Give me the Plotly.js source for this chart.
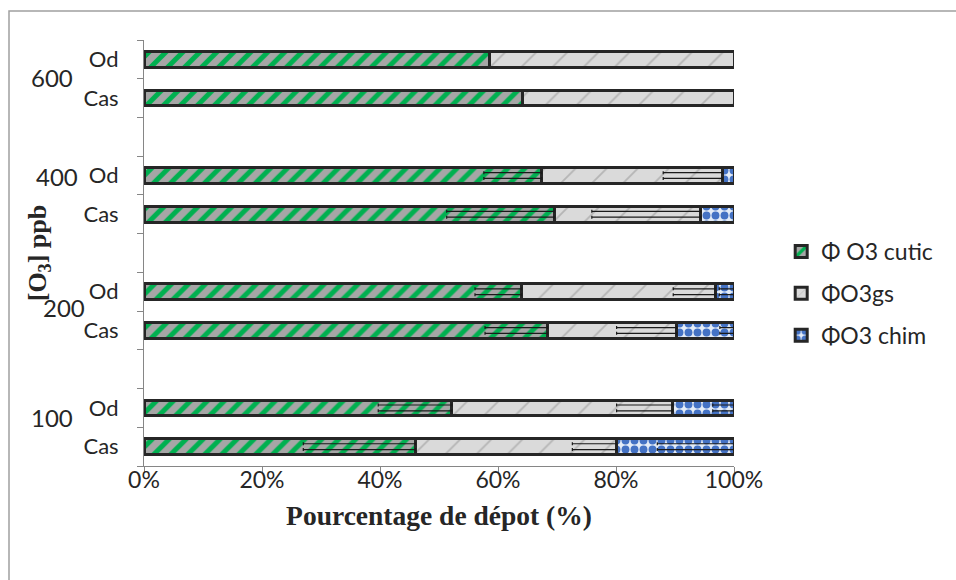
<!DOCTYPE html>
<html>
<head>
<meta charset="utf-8">
<script src="https://cdn.plot.ly/plotly-3.0.1.min.js"></script>
<style>html,body{margin:0;padding:0;background:#fff;}#chart{width:956px;height:580px;}</style>
</head>
<body>
<div id="chart"></div>
<script>
// ---- data (bars ordered bottom to top) ----
const groups = ['100', '200', '400', '600'];
const rows = ['Cas', 'Od'];
const cutic    = [46.0, 52.2, 68.4, 64.0, 69.5, 67.4, 64.2, 58.6];
const gs       = [34.1, 37.4, 21.9, 32.8, 24.9, 30.7, 35.8, 41.4];
const chim     = [19.9, 10.4,  9.7,  3.2,  5.6,  1.9,  0.0,  0.0];
const cuticErr = [19.0, 12.5, 10.6,  7.9, 18.2,  9.8,  0,    0];
const gsErr    = [ 7.5,  9.5, 10.2,  7.1, 18.5, 10.1,  0,    0];
const chimErr  = [13.0,  3.6,  2.4,  2.5,  0,    0,    0,    0];
const seriesNames = ['\u03A6 O3 cutic', '\u03A6O3gs', '\u03A6O3 chim'];
const xTicks = [0, 20, 40, 60, 80, 100];

// ---- layout helpers ----
const slot = i => Math.floor(i / rows.length) * (rows.length + 1) + (i % rows.length);
const yPos = cutic.map((_, i) => slot(i));
const yLabels = cutic.map((_, i) => rows[i % rows.length]);
const nSlots = groups.length * (rows.length + 1) - 1;

const FONT = 'Lato, "Open Sans", sans-serif';
const SERIF = '"Liberation Serif", "Times New Roman", serif';
const outline = {color: '#262626', width: 3};

const styles = [
  {color: '#a6a6a6', pattern: {shape: '/', fgcolor: '#00b050', bgcolor: '#a6a6a6', size: 12, solidity: 0.42}},
  {color: '#d9d9d9', pattern: {shape: '/', fgcolor: '#b5b5b5', bgcolor: '#dadada', size: 22, solidity: 0.08}},
  {color: '#dbe5f1', pattern: {shape: '.', fgcolor: '#4472c4', bgcolor: '#e4ecf7', size: 9, solidity: 0.6}}
];
const values = [cutic, gs, chim];
const errs = [cuticErr, gsErr, chimErr];

const traces = [];
values.forEach((v, k) => {
  traces.push({
    type: 'bar', orientation: 'h', name: seriesNames[k],
    x: v, y: yPos, legendgroup: 'g' + k,
    marker: {color: styles[k].color, pattern: styles[k].pattern, line: outline},
    hoverinfo: 'x+name'
  });
});
// error bars drawn as double lines at the end of each stacked segment
values.forEach((v, k) => {
  const ends = v.map((_, i) => values.slice(0, k + 1).reduce((s, arr) => s + arr[i], 0));
  const xs = ends.map((e, i) => errs[k][i] > 0 ? e : null);
  [-0.075, 0.075].forEach(off => {
    traces.push({
      type: 'scatter', mode: 'markers', showlegend: false, hoverinfo: 'skip',
      x: xs, y: yPos.map(p => p + off),
      marker: {size: 1, color: 'rgba(0,0,0,0)'},
      error_x: {type: 'data', symmetric: false, array: xs.map(() => 0), arrayminus: errs[k],
                color: '#1a1a1a', thickness: 1.2, width: 1.5}
    });
  });
});

const annotations = [
  {text: groups[0], y: 0.74, x: -0.156},
  {text: groups[1], y: 3.6, x: -0.136},
  {text: groups[2], y: 6.97, x: -0.147},
  {text: groups[3], y: 9.53, x: -0.156}
].map(a => ({xref: 'paper', yref: 'y', x: a.x, y: a.y, text: a.text, showarrow: false,
  xanchor: 'center', yanchor: 'middle', font: {family: FONT, size: 24, color: '#262626'}}));

const layout = {
  width: 956, height: 580,
  margin: {l: 144, r: 222, t: 40, b: 114},
  paper_bgcolor: '#ffffff', plot_bgcolor: '#ffffff',
  barmode: 'stack', bargap: 0.6,
  font: {family: FONT, size: 22, color: '#262626'},
  showlegend: true,
  legend: {x: 1.08, y: 0.405, xanchor: 'left', yanchor: 'middle', traceorder: 'grouped',
           tracegroupgap: 9, font: {family: FONT, size: 23, color: '#262626'}, bgcolor: 'rgba(0,0,0,0)'},
  xaxis: {
    range: [0, 100], tickvals: xTicks, ticktext: xTicks.map(t => t + '%'),
    showgrid: false, zeroline: false, showline: true, linecolor: '#868686', linewidth: 1,
    ticks: 'outside', ticklen: 6, tickcolor: '#868686', ticklabelstandoff: -13,
    tickfont: {family: FONT, size: 23, color: '#262626'},
    title: {text: '<b>Pourcentage de dépot (%)</b>', font: {family: SERIF, size: 27.5, color: '#262626'}, standoff: 14}
  },
  yaxis: {
    range: [-0.5, nSlots - 0.5], tickmode: 'array', tickvals: yPos, ticktext: yLabels,
    showgrid: false, zeroline: false, showline: true, linecolor: '#868686', linewidth: 1,
    ticks: '', ticklabelstandoff: 20,
    minor: {tickmode: 'linear', tick0: -0.5, dtick: 1, ticks: 'outside', ticklen: 6, tickcolor: '#868686', showgrid: false},
    tickfont: {family: FONT, size: 22, color: '#262626'},
    title: {text: '<b>[O<sub>3</sub>] ppb</b>', font: {family: SERIF, size: 26, color: '#262626'}, standoff: 29}
  },
  annotations: annotations,
  shapes: [{type: 'rect', xref: 'paper', yref: 'paper',
            x0: (9 - 144) / 590, x1: 1.6, y0: -0.5, y1: (466 - 11) / 426,
            line: {color: '#a0a0a0', width: 1.5}, fillcolor: 'rgba(0,0,0,0)', layer: 'below'}]
};

Plotly.newPlot('chart', traces, layout, {displayModeBar: false, staticPlot: true});
</script>
</body>
</html>
